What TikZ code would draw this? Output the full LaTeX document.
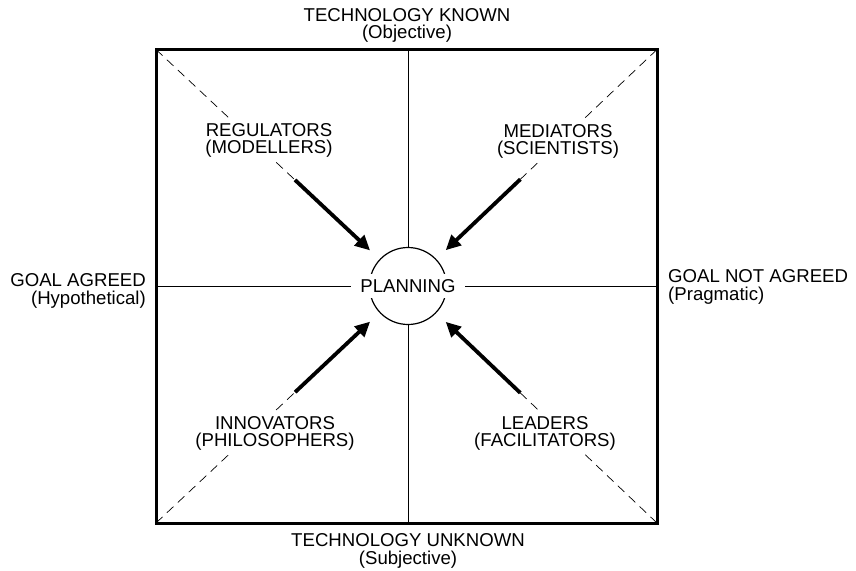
\documentclass[tikz,border=0pt]{standalone}
\usepackage{fontspec}
\setmainfont{Liberation Sans}
\usetikzlibrary{arrows.meta,calc}
\begin{document}
\begin{tikzpicture}[x=1pt,y=-1pt,
  lbl/.style={font=\fontsize{18.6}{17.5}\selectfont, inner sep=0pt, align=center},
  quad/.style={lbl, fill=white, inner sep=3pt},
  frame/.style={line width=3pt},
  axis/.style={line width=0.8pt},
  diag/.style={line width=0.7pt, dash pattern=on 9pt off 6pt},
  push/.style={line width=3.8pt, -{Triangle[length=15pt,width=14pt]}},
]
\useasboundingbox (0,0) rectangle (856,570);

% corners of the frame, axis ends and centre
\coordinate (c)  at (408,286);
\coordinate (TL) at (156,49.5);
\coordinate (TR) at (657,49.5);
\coordinate (BL) at (156,523);
\coordinate (BR) at (657,523);
\coordinate (T)  at (408,49.5);
\coordinate (B)  at (408,523);
\coordinate (L)  at (156,286);
\coordinate (R)  at (657,286);

% arrow tails and tips along the diagonals
\foreach \k in {TL,TR,BL,BR}{
  \coordinate (tail\k) at ($(c)!155pt!(\k)$);
  \coordinate (tip\k)  at ($(c)!52pt!(\k)$);
}

% central circle and axes
\node[circle, draw, line width=1.2pt, minimum size=77pt, inner sep=0pt] (hub) at (c) {};
\draw[axis] (T) -- (hub.north);
\draw[axis] (hub.south) -- (B);
\node[lbl, fill=white, inner xsep=9.5pt, inner ysep=5pt] (plan) at (c) {PLANNING};
\draw[axis] (L) -- (plan.west);
\draw[axis] (plan.east) -- (R);

% dashed diagonals from the corners
\foreach \k in {TL,TR,BL,BR}{
  \draw[diag] (\k) -- (tail\k);
}

% frame
\draw[frame] (TL) rectangle (BR);

% quadrant labels
\node[quad] (reg) at (269,140.5) {REGULATORS\\(MODELLERS)};
\node[quad] (med) at (558,141.5) {MEDIATORS\\(SCIENTISTS)};
\node[quad] (inn) at (275,433.5) {INNOVATORS\\(PHILOSOPHERS)};
\node[quad] (lea) at (545,433.5) {LEADERS\\(FACILITATORS)};

% arrows towards planning
\foreach \k in {TL,TR,BL,BR}{
  \draw[push] (tail\k) -- (tip\k);
}

% outer labels
\node[lbl] (tk) at (407,25.5) {TECHNOLOGY KNOWN\\(Objective)};
\node[lbl] (tu) at (408,551) {TECHNOLOGY UNKNOWN\\(Subjective)};
\node[lbl, align=right, anchor=east] (ga) at (146,290.8) {GOAL AGREED\\(Hypothetical)};
\node[lbl, align=left, anchor=west] (gna) at (668,286.8) {GOAL NOT AGREED\\(Pragmatic)};
\end{tikzpicture}
\end{document}
